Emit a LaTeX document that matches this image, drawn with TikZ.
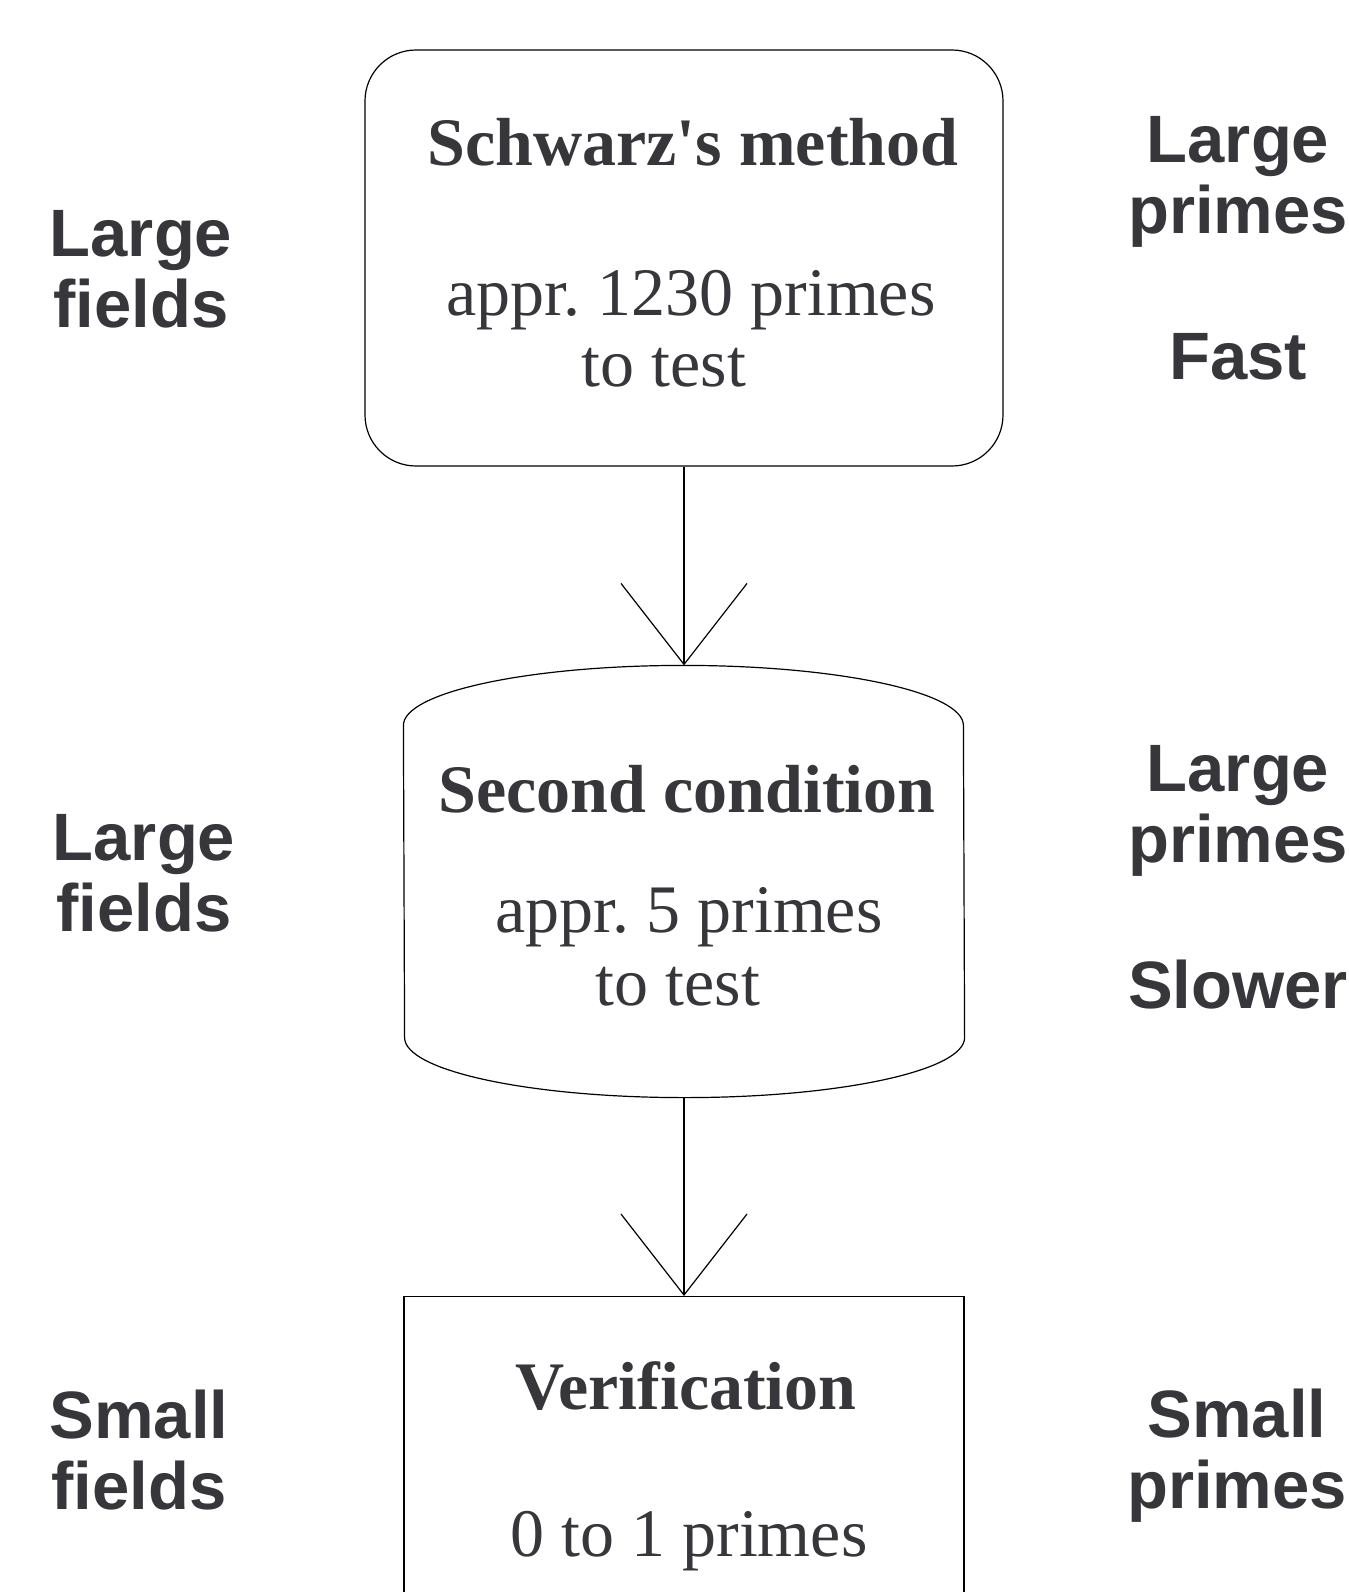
\documentclass[tikz,border=0pt]{standalone}
\usepackage{fontspec}
\setmainfont{Liberation Serif}
\newfontfamily\labelfont{Liberation Sans}
\usepackage{tikz}
\usetikzlibrary{calc}
\usetikzlibrary{positioning}
\usetikzlibrary{arrows.meta}
\definecolor{textgray}{RGB}{54,54,59}
\frenchspacing

\begin{document}
\begin{tikzpicture}[x=0.5pt, y=-0.5pt,
        stage/.style={rectangle, draw=black, line width=0.6pt, minimum width=280pt},
        title/.style={anchor=base, text=textgray, inner sep=0pt, font=\fontsize{34}{35.5}\selectfont\bfseries},
        body/.style={anchor=base, text=textgray, inner sep=0pt, font=\fontsize{34}{35.5}\selectfont},
        side/.style={anchor=base, text=textgray, inner sep=0pt, align=center, font=\labelfont\fontsize{33.5}{35.5}\selectfont\bfseries},
        flow/.style={draw=black, line width=0.6pt, -{Straight Barb[length=40.5pt, width=63pt]}}]
            \path[use as bounding box, clip] (0, 0) rectangle (1349, 1592);

            % the three stages
            \node[stage, rounded corners=25.5pt, minimum width=319pt, minimum height=208pt] (schwarz) at (684, 258) {};
            \node[stage, draw=none, minimum height=215.5pt] (cond) at (684, 881.5) {};
            \draw[line width=0.6pt] ($(cond.north west) + (0, 60)$)
                arc[start angle=180, end angle=360, x radius=280, y radius=60]
                -- ($(cond.south east) + (0, -60)$)
                arc[start angle=0, end angle=180, x radius=280, y radius=60] -- cycle;
            \node[stage, minimum height=200pt, anchor=north] (verif) at (684, 1296) {};

            \draw[flow] (schwarz) -- (cond);
            \draw[flow] (cond) -- (verif);

            % texts inside
            \node[title] (schwarz title) at (693, 165) {Schwarz\textquotesingle s method};
            \node[body] (schwarz count) at (691, 315) {appr. 1230 primes};
            \node[body] (schwarz test) at (664, 386) {to test};
            \node[title] (cond title) at (687, 812) {Second condition};
            \node[body] (cond count) at (689, 932) {appr. 5 primes};
            \node[body] (cond test) at (678, 1005) {to test};
            \node[title] (verif title) at (686, 1409) {Verification};
            \node[body] (verif count) at (689, 1556) {0 to 1 primes};

            % fields on the left, primes on the right (base = last line)
            \node[side] (fields a) at (141, 327) {Large\\fields};
            \node[side] (fields b) at (144, 931) {Large\\fields};
            \node[side] (fields c) at (139, 1509) {Small\\fields};
            \node[side] (primes a) at (1238, 379) {Large\\primes\\[37.5pt]Fast};
            \node[side] (primes b) at (1238, 1008) {Large\\primes\\[37.5pt]Slower};
            \node[side] (primes c) at (1237, 1508) {Small\\primes};
        \end{tikzpicture}
\end{document}
